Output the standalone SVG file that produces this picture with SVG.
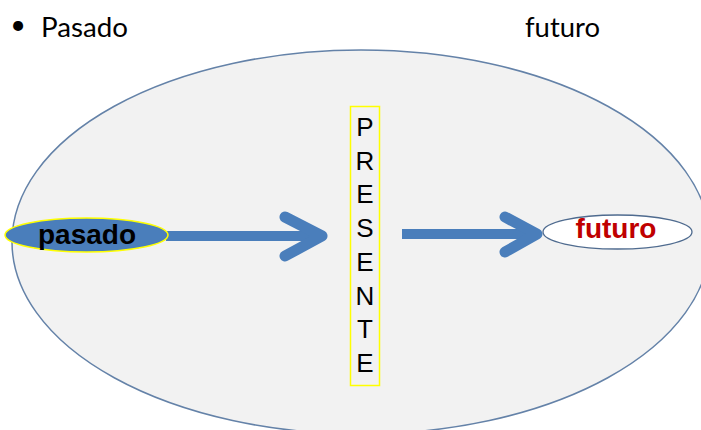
<svg xmlns="http://www.w3.org/2000/svg" width="701" height="430" viewBox="0 0 701 430">
  <style>
    .title { font-family: Lato, "Open Sans", sans-serif; font-size: 27px; fill: #000; }
    .arrow { stroke: #4a7ebb; fill: none; }
    .shaft { stroke-width: 10; stroke-linecap: butt; }
    .head { stroke-width: 11; stroke-linecap: round; stroke-linejoin: round; }
    .lbl { font-family: "Liberation Sans", Arial, sans-serif; font-weight: bold; font-size: 28px; text-anchor: middle; }
    .pres { font-family: "Liberation Sans", Arial, sans-serif; font-size: 26px; text-anchor: middle; fill: #000; }
  </style>
  <rect x="0" y="0" width="701" height="430" fill="#ffffff"/>
  <g id="titles">
    <text class="title" x="18" y="34" text-anchor="middle" font-size="21">•</text>
    <text class="title" x="41" y="37" textLength="87" lengthAdjust="spacingAndGlyphs">Pasado</text>
    <text class="title" x="525" y="37" textLength="75" lengthAdjust="spacingAndGlyphs">futuro</text>
  </g>
  <g id="tiempo">
    <ellipse cx="361" cy="242" rx="349" ry="192" fill="#f2f2f2" stroke="#6482a8" stroke-width="1.5"/>
  </g>
  <g id="connectors">
    <g class="arrow">
      <line class="shaft" x1="166" y1="236" x2="318" y2="236"/>
      <polyline class="head" points="285,217 322,236 285,256"/>
    </g>
    <g class="arrow">
      <line class="shaft" x1="402" y1="234" x2="532" y2="234"/>
      <polyline class="head" points="505,217 537,234 505,252"/>
    </g>
  </g>
  <g id="pasado">
    <ellipse cx="86.5" cy="235" rx="81.5" ry="17" fill="#4a7ebb" stroke="#ffff00" stroke-width="1.5"/>
    <text class="lbl" x="87" y="244" fill="#000000">pasado</text>
  </g>
  <g id="presente">
    <rect x="350.5" y="106.5" width="29" height="279" fill="none" stroke="#ffff00" stroke-width="1.5"/>
    <text class="pres" x="365" y="136">P</text>
    <text class="pres" x="365" y="170">R</text>
    <text class="pres" x="365" y="203">E</text>
    <text class="pres" x="365" y="237">S</text>
    <text class="pres" x="365" y="271">E</text>
    <text class="pres" x="365" y="305">N</text>
    <text class="pres" x="365" y="338">T</text>
    <text class="pres" x="365" y="372">E</text>
  </g>
  <g id="futuro">
    <ellipse cx="617.5" cy="232" rx="74.5" ry="17" fill="#ffffff" stroke="#4f6b8f" stroke-width="1.3"/>
    <text class="lbl" x="616" y="238" fill="#c00000" font-size="27.5">futuro</text>
  </g>
</svg>
